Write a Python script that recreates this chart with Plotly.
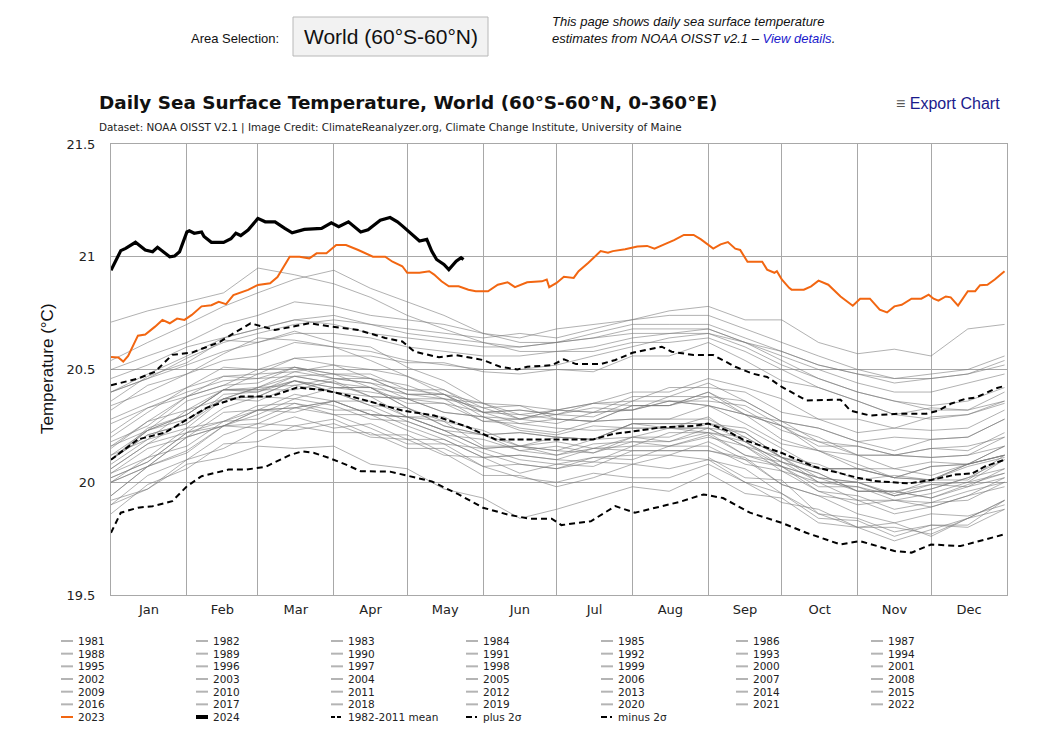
import plotly.graph_objects as go

# ---------------- data ----------------
KNOTS = ["01-01", "01-16", "02-01", "02-16", "03-01", "03-16", "04-01", "04-16",
         "05-01", "05-16", "06-01", "06-16", "07-01", "07-16", "08-01", "08-16",
         "09-01", "09-16", "10-01", "10-16", "11-01", "11-16", "12-01", "12-16", "12-31"]
KNOTS_1981 = KNOTS[16:]

y1981 = [20.11, 20.02, 20.01, 19.86, 19.80, 19.82, 19.76, 19.84, 19.88]
y1982 = [19.90, 19.97, 20.10, 20.15, 20.23, 20.23, 20.26, 20.20, 20.19, 20.12, 20.11, 20.04, 20.08, 20.11, 20.10, 20.16, 20.21, 20.12, 20.09, 20.00, 20.00, 19.95, 20.01, 20.01, 20.12]
y1983 = [20.10, 20.24, 20.30, 20.41, 20.41, 20.45, 20.40, 20.38, 20.29, 20.27, 20.16, 20.16, 20.12, 20.15, 20.14, 20.14, 20.14, 20.11, 19.99, 19.94, 19.86, 19.82, 19.86, 19.85, 19.90]
y1984 = [19.90, 20.03, 20.10, 20.21, 20.26, 20.25, 20.28, 20.21, 20.21, 20.13, 20.03, 20.03, 19.98, 20.02, 20.08, 20.06, 20.10, 20.00, 19.95, 19.84, 19.83, 19.76, 19.81, 19.81, 19.92]
y1985 = [19.92, 19.97, 20.08, 20.11, 20.16, 20.15, 20.16, 20.08, 20.06, 19.97, 19.93, 19.84, 19.88, 19.93, 19.98, 19.96, 20.04, 19.95, 19.93, 19.82, 19.80, 19.74, 19.79, 19.84, 19.92]
y1986 = [19.94, 20.07, 20.13, 20.25, 20.24, 20.29, 20.24, 20.26, 20.19, 20.19, 20.11, 20.12, 20.10, 20.15, 20.16, 20.22, 20.22, 20.20, 20.11, 20.08, 20.01, 20.03, 20.01, 20.08, 20.12]
y1987 = [20.10, 20.23, 20.30, 20.41, 20.42, 20.49, 20.46, 20.46, 20.39, 20.39, 20.31, 20.32, 20.30, 20.35, 20.34, 20.34, 20.40, 20.30, 20.25, 20.14, 20.12, 20.06, 20.09, 20.08, 20.16]
y1988 = [20.15, 20.27, 20.32, 20.41, 20.40, 20.45, 20.40, 20.34, 20.27, 20.21, 20.13, 20.08, 20.06, 20.09, 20.08, 20.12, 20.10, 20.06, 19.95, 19.86, 19.84, 19.78, 19.81, 19.80, 19.88]
y1989 = [19.86, 19.99, 20.06, 20.17, 20.18, 20.25, 20.22, 20.22, 20.15, 20.15, 20.07, 20.08, 20.06, 20.11, 20.12, 20.12, 20.18, 20.10, 20.07, 19.98, 19.98, 19.94, 19.99, 20.00, 20.10]
y1990 = [20.08, 20.19, 20.24, 20.37, 20.38, 20.45, 20.42, 20.42, 20.33, 20.25, 20.21, 20.22, 20.20, 20.19, 20.26, 20.24, 20.24, 20.22, 20.11, 20.06, 20.06, 20.02, 20.01, 20.07, 20.11]
y1991 = [20.10, 20.23, 20.30, 20.41, 20.41, 20.41, 20.45, 20.38, 20.37, 20.31, 20.29, 20.23, 20.21, 20.25, 20.24, 20.24, 20.29, 20.18, 20.09, 20.04, 19.96, 19.96, 19.93, 19.99, 20.04]
y1992 = [20.04, 20.11, 20.24, 20.27, 20.28, 20.35, 20.30, 20.24, 20.17, 20.17, 20.07, 20.02, 20.00, 20.04, 20.02, 20.02, 20.08, 20.00, 19.91, 19.88, 19.80, 19.80, 19.77, 19.84, 19.92]
y1993 = [19.94, 20.07, 20.14, 20.25, 20.26, 20.33, 20.30, 20.30, 20.23, 20.17, 20.15, 20.10, 20.08, 20.07, 20.14, 20.14, 20.14, 20.10, 19.99, 19.94, 19.92, 19.86, 19.89, 19.94, 19.98]
y1994 = [20.00, 20.07, 20.20, 20.25, 20.32, 20.33, 20.36, 20.30, 20.29, 20.23, 20.15, 20.16, 20.14, 20.19, 20.20, 20.20, 20.26, 20.22, 20.11, 20.06, 20.06, 20.02, 20.01, 20.08, 20.12]
y1995 = [20.12, 20.23, 20.28, 20.37, 20.36, 20.43, 20.40, 20.34, 20.33, 20.25, 20.21, 20.14, 20.16, 20.13, 20.18, 20.16, 20.20, 20.16, 20.05, 20.00, 19.92, 19.92, 19.89, 19.94, 20.02]
y1996 = [20.02, 20.09, 20.22, 20.25, 20.30, 20.37, 20.34, 20.28, 20.27, 20.21, 20.19, 20.14, 20.12, 20.17, 20.18, 20.18, 20.24, 20.16, 20.07, 20.02, 20.00, 19.94, 19.97, 20.02, 20.06]
y1997 = [20.06, 20.17, 20.22, 20.33, 20.38, 20.37, 20.42, 20.40, 20.37, 20.35, 20.31, 20.30, 20.32, 20.35, 20.40, 20.40, 20.46, 20.42, 20.37, 20.28, 20.28, 20.24, 20.29, 20.30, 20.35]
y1998 = [20.36, 20.47, 20.53, 20.63, 20.62, 20.67, 20.62, 20.60, 20.51, 20.45, 20.35, 20.34, 20.28, 20.27, 20.28, 20.28, 20.28, 20.20, 20.11, 20.02, 19.96, 19.96, 19.93, 19.98, 20.02]
y1999 = [20.02, 20.09, 20.22, 20.27, 20.34, 20.35, 20.32, 20.32, 20.25, 20.19, 20.11, 20.12, 20.10, 20.09, 20.16, 20.16, 20.16, 20.08, 20.05, 19.96, 19.90, 19.92, 19.91, 19.92, 20.00]
y2000 = [20.00, 20.11, 20.16, 20.27, 20.32, 20.31, 20.36, 20.30, 20.29, 20.23, 20.15, 20.16, 20.14, 20.13, 20.20, 20.24, 20.22, 20.18, 20.07, 20.02, 20.00, 19.94, 19.97, 20.02, 20.10]
y2001 = [20.10, 20.21, 20.26, 20.39, 20.40, 20.47, 20.44, 20.38, 20.37, 20.31, 20.29, 20.24, 20.22, 20.27, 20.28, 20.28, 20.34, 20.26, 20.17, 20.14, 20.08, 20.02, 20.07, 20.08, 20.16]
y2002 = [20.16, 20.23, 20.36, 20.41, 20.48, 20.49, 20.52, 20.46, 20.39, 20.39, 20.31, 20.32, 20.30, 20.29, 20.36, 20.36, 20.36, 20.34, 20.25, 20.20, 20.12, 20.12, 20.15, 20.16, 20.20]
y2003 = [20.22, 20.33, 20.38, 20.47, 20.46, 20.51, 20.46, 20.44, 20.41, 20.39, 20.29, 20.28, 20.32, 20.31, 20.32, 20.36, 20.34, 20.30, 20.25, 20.16, 20.16, 20.12, 20.11, 20.12, 20.20]
y2004 = [20.18, 20.25, 20.38, 20.43, 20.44, 20.51, 20.48, 20.42, 20.39, 20.37, 20.27, 20.26, 20.28, 20.27, 20.34, 20.34, 20.38, 20.30, 20.27, 20.18, 20.12, 20.12, 20.15, 20.14, 20.22]
y2005 = [20.20, 20.31, 20.42, 20.47, 20.48, 20.55, 20.52, 20.50, 20.47, 20.39, 20.35, 20.28, 20.30, 20.33, 20.32, 20.36, 20.34, 20.30, 20.19, 20.14, 20.06, 20.06, 20.03, 20.08, 20.12]
y2006 = [20.12, 20.19, 20.32, 20.37, 20.38, 20.45, 20.42, 20.42, 20.35, 20.35, 20.27, 20.28, 20.26, 20.31, 20.32, 20.38, 20.38, 20.36, 20.27, 20.24, 20.18, 20.20, 20.19, 20.20, 20.28]
y2007 = [20.26, 20.33, 20.40, 20.45, 20.46, 20.47, 20.44, 20.42, 20.33, 20.27, 20.23, 20.16, 20.18, 20.15, 20.20, 20.18, 20.22, 20.12, 20.07, 19.96, 19.94, 19.88, 19.91, 19.96, 20.00]
y2008 = [20.00, 20.07, 20.20, 20.25, 20.32, 20.33, 20.36, 20.30, 20.29, 20.23, 20.21, 20.16, 20.20, 20.19, 20.26, 20.26, 20.26, 20.24, 20.15, 20.06, 20.06, 20.02, 20.07, 20.08, 20.12]
y2009 = [20.10, 20.21, 20.26, 20.37, 20.42, 20.43, 20.46, 20.44, 20.37, 20.37, 20.33, 20.28, 20.32, 20.35, 20.36, 20.42, 20.42, 20.40, 20.31, 20.28, 20.22, 20.24, 20.23, 20.24, 20.32]
y2010 = [20.32, 20.43, 20.48, 20.57, 20.64, 20.63, 20.60, 20.54, 20.47, 20.41, 20.31, 20.26, 20.24, 20.23, 20.24, 20.24, 20.24, 20.16, 20.11, 20.00, 19.98, 19.92, 19.95, 20.00, 20.04]
y2011 = [20.04, 20.15, 20.20, 20.31, 20.32, 20.39, 20.36, 20.36, 20.29, 20.29, 20.21, 20.22, 20.20, 20.19, 20.26, 20.26, 20.26, 20.18, 20.09, 20.04, 19.96, 19.96, 19.99, 19.98, 20.06]
y2012 = [20.06, 20.17, 20.28, 20.37, 20.42, 20.47, 20.48, 20.46, 20.43, 20.37, 20.35, 20.30, 20.28, 20.27, 20.34, 20.34, 20.40, 20.32, 20.23, 20.18, 20.16, 20.12, 20.11, 20.12, 20.16]
y2013 = [20.16, 20.27, 20.38, 20.43, 20.50, 20.51, 20.48, 20.48, 20.41, 20.41, 20.33, 20.34, 20.32, 20.31, 20.38, 20.38, 20.44, 20.36, 20.27, 20.24, 20.18, 20.14, 20.19, 20.20, 20.28]
y2014 = [20.28, 20.35, 20.42, 20.51, 20.50, 20.55, 20.56, 20.56, 20.53, 20.53, 20.49, 20.48, 20.50, 20.49, 20.56, 20.56, 20.62, 20.54, 20.45, 20.42, 20.36, 20.30, 20.33, 20.32, 20.40]
y2015 = [20.40, 20.46, 20.55, 20.62, 20.66, 20.70, 20.72, 20.70, 20.68, 20.66, 20.64, 20.66, 20.64, 20.68, 20.72, 20.76, 20.78, 20.72, 20.72, 20.62, 20.57, 20.59, 20.56, 20.68, 20.70]
y2016 = [20.71, 20.76, 20.80, 20.84, 20.95, 20.92, 20.88, 20.82, 20.74, 20.68, 20.62, 20.58, 20.58, 20.58, 20.62, 20.62, 20.64, 20.58, 20.50, 20.42, 20.36, 20.30, 20.28, 20.30, 20.36]
y2017 = [20.40, 20.48, 20.56, 20.64, 20.68, 20.72, 20.74, 20.70, 20.66, 20.64, 20.62, 20.60, 20.62, 20.64, 20.68, 20.68, 20.68, 20.62, 20.54, 20.46, 20.40, 20.36, 20.32, 20.32, 20.36]
y2018 = [20.34, 20.40, 20.48, 20.54, 20.56, 20.62, 20.60, 20.58, 20.54, 20.52, 20.50, 20.50, 20.52, 20.56, 20.60, 20.64, 20.66, 20.62, 20.58, 20.52, 20.48, 20.46, 20.46, 20.48, 20.52]
y2019 = [20.50, 20.56, 20.62, 20.70, 20.74, 20.80, 20.78, 20.74, 20.72, 20.70, 20.66, 20.64, 20.68, 20.70, 20.72, 20.74, 20.74, 20.68, 20.62, 20.56, 20.50, 20.46, 20.48, 20.50, 20.56]
y2020 = [20.54, 20.62, 20.70, 20.78, 20.84, 20.90, 20.94, 20.86, 20.80, 20.74, 20.66, 20.62, 20.62, 20.64, 20.66, 20.66, 20.66, 20.60, 20.52, 20.46, 20.40, 20.36, 20.34, 20.36, 20.42]
y2021 = [20.40, 20.46, 20.52, 20.58, 20.62, 20.66, 20.66, 20.64, 20.60, 20.58, 20.56, 20.56, 20.58, 20.60, 20.64, 20.66, 20.68, 20.62, 20.56, 20.50, 20.44, 20.40, 20.40, 20.44, 20.48]
y2022 = [20.46, 20.52, 20.60, 20.64, 20.68, 20.72, 20.70, 20.66, 20.64, 20.62, 20.60, 20.60, 20.62, 20.66, 20.70, 20.70, 20.70, 20.64, 20.58, 20.52, 20.48, 20.44, 20.46, 20.48, 20.54]

d2023 = ["01-01", "01-04", "01-06", "01-08", "01-12", "01-15", "01-19", "01-22", "01-25", "01-28", "01-31",
         "02-03", "02-07", "02-11", "02-14", "02-17", "02-20", "02-26", "03-01", "03-06", "03-09", "03-14",
         "03-18", "03-22", "03-25", "03-29", "04-02", "04-06", "04-11", "04-17", "04-22", "04-25", "04-29",
         "05-01", "05-06", "05-10", "05-12", "05-15", "05-18", "05-22", "05-26", "05-29", "06-03", "06-07",
         "06-11", "06-14", "06-19", "06-25", "06-27", "06-28", "07-01", "07-04", "07-08", "07-10", "07-14",
         "07-19", "07-22", "07-24", "07-29", "08-03", "08-07", "08-10", "08-14", "08-18", "08-22", "08-26",
         "08-29", "09-03", "09-06", "09-09", "09-12", "09-14", "09-17", "09-23", "09-25", "09-28", "09-29",
         "10-01", "10-04", "10-05", "10-10", "10-13", "10-16", "10-20", "10-25", "10-30", "11-02", "11-06",
         "11-10", "11-13", "11-16", "11-19", "11-23", "11-27", "11-30", "12-02", "12-04", "12-07", "12-09",
         "12-12", "12-16", "12-19", "12-21", "12-24", "12-27", "12-31"]
v2023 = [20.555, 20.553, 20.535, 20.56, 20.65, 20.655, 20.69, 20.72, 20.705, 20.726, 20.72,
         20.742, 20.78, 20.785, 20.80, 20.79, 20.83, 20.853, 20.875, 20.882, 20.91, 21.00,
         21.00, 20.993, 21.015, 21.015, 21.052, 21.052, 21.03, 21.00, 21.00, 20.978, 20.958,
         20.929, 20.929, 20.936, 20.921, 20.891, 20.869, 20.869, 20.854, 20.847, 20.847, 20.876,
         20.887, 20.865, 20.887, 20.891, 20.899, 20.865, 20.884, 20.911, 20.906, 20.936, 20.973,
         21.025, 21.018, 21.025, 21.033, 21.045, 21.048, 21.036, 21.055, 21.074, 21.097, 21.097,
         21.077, 21.036, 21.055, 21.065, 21.036, 21.03, 20.978, 20.978, 20.943, 20.929, 20.936,
         20.899, 20.862, 20.854, 20.854, 20.869, 20.894, 20.876, 20.824, 20.783, 20.814, 20.814,
         20.765, 20.753, 20.78, 20.787, 20.814, 20.814, 20.832, 20.814, 20.805, 20.824, 20.82,
         20.783, 20.847, 20.847, 20.874, 20.876, 20.899, 20.936]

d2024 = ["01-01", "01-03", "01-05", "01-07", "01-11", "01-15", "01-18", "01-20", "01-25", "01-27", "01-29",
         "02-01", "02-02", "02-04", "02-07", "02-08", "02-11", "02-16", "02-19", "02-21", "02-23", "02-26",
         "03-01", "03-04", "03-08", "03-12", "03-15", "03-20", "03-27", "03-31", "04-03", "04-07", "04-12",
         "04-15", "04-20", "04-24", "04-27", "04-29", "05-03", "05-06", "05-09", "05-11", "05-13", "05-16",
         "05-18", "05-21", "05-23", "05-24"]
v2024 = [20.94, 20.985, 21.027, 21.037, 21.064, 21.03, 21.022, 21.042, 21.00, 21.003, 21.022,
         21.11, 21.115, 21.104, 21.11, 21.09, 21.064, 21.064, 21.08, 21.104, 21.094, 21.118,
         21.17, 21.155, 21.155, 21.126, 21.106, 21.121, 21.126, 21.15, 21.133, 21.155, 21.11,
         21.12, 21.162, 21.174, 21.155, 21.137, 21.10, 21.07, 21.077, 21.025, 20.988, 20.966,
         20.943, 20.98, 20.996, 20.988]

d_mean = ["01-01", "01-12", "01-23", "02-01", "02-09", "02-23", "03-06", "03-17", "03-27", "04-05", "04-18",
          "04-29", "05-12", "05-26", "06-01", "06-06", "07-16", "07-24", "08-01", "08-13", "08-26", "09-01",
          "09-08", "09-15", "10-01", "10-14", "11-01", "11-08", "11-22", "12-01", "12-11", "12-18", "12-23", "12-31"]
v_mean = [20.10, 20.19, 20.22, 20.28, 20.33, 20.38, 20.38, 20.42, 20.41, 20.39, 20.35,
          20.318, 20.296, 20.244, 20.214, 20.19, 20.19, 20.214, 20.225, 20.244, 20.25, 20.26,
          20.232, 20.19, 20.13, 20.07, 20.02, 20.005, 19.995, 20.01, 20.034, 20.04, 20.07, 20.10]

d_plus = ["01-01", "01-09", "01-12", "01-19", "01-26", "02-03", "02-14", "02-20", "02-27", "03-08", "03-22",
          "03-31", "04-11", "04-22", "04-29", "05-04", "05-14", "05-21", "06-01", "06-08", "06-15", "06-19",
          "06-29", "07-04", "07-09", "07-19", "07-25", "08-01", "08-09", "08-13", "08-17", "08-26", "09-03",
          "09-12", "09-19", "09-25", "10-01", "10-07", "10-11", "10-25", "10-29", "11-06", "11-18", "11-29",
          "12-04", "12-09", "12-15", "12-19", "12-23", "12-27", "12-31"]
v_plus = [20.43, 20.45, 20.46, 20.49, 20.565, 20.575, 20.62, 20.66, 20.705, 20.675, 20.705,
          20.69, 20.675, 20.64, 20.624, 20.579, 20.554, 20.564, 20.542, 20.512, 20.50, 20.512,
          20.519, 20.545, 20.524, 20.524, 20.542, 20.574, 20.594, 20.601, 20.579, 20.564, 20.564,
          20.512, 20.482, 20.467, 20.423, 20.385, 20.363, 20.366, 20.318, 20.296, 20.304, 20.304,
          20.318, 20.348, 20.37, 20.375, 20.393, 20.415, 20.427]

d_minus = ["01-01", "01-05", "01-12", "01-18", "01-26", "02-01", "02-07", "02-18", "02-25", "03-04", "03-14",
           "03-19", "03-24", "03-30", "04-06", "04-12", "04-24", "05-02", "05-11", "05-22", "06-01", "06-11",
           "06-20", "06-29", "07-03", "07-15", "07-25", "08-02", "08-11", "08-20", "08-30", "09-07", "09-18",
           "10-01", "10-11", "10-25", "11-02", "11-16", "11-23", "12-01", "12-13", "12-23", "12-31"]
v_minus = [19.776, 19.865, 19.887, 19.894, 19.916, 19.982, 20.027, 20.056, 20.056, 20.068, 20.12,
           20.137, 20.13, 20.108, 20.078, 20.049, 20.047, 20.027, 20.004, 19.946, 19.887, 19.857,
           19.838, 19.838, 19.81, 19.827, 19.894, 19.865, 19.887, 19.912, 19.946, 19.93, 19.865,
           19.82, 19.776, 19.724, 19.739, 19.695, 19.688, 19.724, 19.717, 19.746, 19.769]

YEARS_GRAY = list(range(1981, 2023))
GRAY_SERIES = [y1981, y1982, y1983, y1984, y1985, y1986, y1987, y1988, y1989, y1990,
               y1991, y1992, y1993, y1994, y1995, y1996, y1997, y1998, y1999, y2000,
               y2001, y2002, y2003, y2004, y2005, y2006, y2007, y2008, y2009, y2010,
               y2011, y2012, y2013, y2014, y2015, y2016, y2017, y2018, y2019, y2020,
               y2021, y2022]

Y_TICKS = [19.5, 20, 20.5, 21, 21.5]
Y_TICK_TEXT = ["19.5", "20", "20.5", "21", "21.5"]

# ---------------- layout geometry ----------------
# the page body has an 8px margin, so the figure is drawn 8px in from the window corner
OFF = 8
W, H = 1052 - OFF, 738 - OFF
PLOT_L, PLOT_R, PLOT_T, PLOT_B = 111, 1007, 144, 595     # window pixel coordinates
L, R, T, B = PLOT_L - OFF, 1052 - PLOT_R, PLOT_T - OFF, 738 - PLOT_B
PW, PH = W - L - R, H - T - B


def px(xp):
    """window x pixel -> paper coordinate"""
    return (xp - OFF - L) / PW


def py(yp):
    """window y pixel -> paper coordinate"""
    return (H - B - (yp - OFF)) / PH


def on2024(md_list):
    return ["2024-" + md for md in md_list]


GRAY = "rgba(120,120,120,0.58)"
ORANGE = "#f26611"
FONT_TICK = "DejaVu Sans, Verdana, sans-serif"
FONT_UI = "Liberation Sans, Arial, sans-serif"

fig = go.Figure()

for yr, vals in zip(YEARS_GRAY, GRAY_SERIES):
    xs = KNOTS_1981 if yr == 1981 else KNOTS
    fig.add_trace(go.Scatter(x=on2024(xs), y=vals, mode="lines", name=str(yr),
                             line=dict(color=GRAY, width=1), showlegend=False,
                             hoverinfo="skip"))

fig.add_trace(go.Scatter(x=on2024(d_mean), y=v_mean, mode="lines", name="1982-2011 mean",
                         line=dict(color="black", width=2, dash="6px,3px"), showlegend=False))
fig.add_trace(go.Scatter(x=on2024(d_plus), y=v_plus, mode="lines", name="plus 2σ",
                         line=dict(color="black", width=2, dash="6px,4px"), showlegend=False))
fig.add_trace(go.Scatter(x=on2024(d_minus), y=v_minus, mode="lines", name="minus 2σ",
                         line=dict(color="black", width=2, dash="6px,4px"), showlegend=False))
fig.add_trace(go.Scatter(x=on2024(d2023), y=v2023, mode="lines", name="2023",
                         line=dict(color=ORANGE, width=2), showlegend=False))
fig.add_trace(go.Scatter(x=on2024(d2024), y=v2024, mode="lines", name="2024",
                         line=dict(color="black", width=3.2), showlegend=False))

# ---------------- custom legend (7 columns) ----------------
legend_names = [str(y) for y in YEARS_GRAY] + ["2023", "2024", "1982-2011 mean", "plus 2σ", "minus 2σ"]
legend_styles = ([dict(color="#b4b4b4", width=2, dash="solid")] * len(YEARS_GRAY) +
                 [dict(color=ORANGE, width=2, dash="solid"),
                  dict(color="black", width=4, dash="solid"),
                  dict(color="black", width=2, dash="4px,2px"),
                  dict(color="black", width=2, dash="6px,3px,2px,3px"),
                  dict(color="black", width=2, dash="6px,3px,2px,3px")])
shapes = []
annotations = []
for i, (nm, st) in enumerate(zip(legend_names, legend_styles)):
    col, row = i % 7, i // 7
    x0 = 61 + 135 * col
    yy = 641 + 12.67 * row
    shapes.append(dict(type="line", xref="paper", yref="paper",
                       x0=px(x0), x1=px(x0 + 12), y0=py(yy), y1=py(yy), line=st))
    annotations.append(dict(xref="paper", yref="paper", x=px(x0 + 15), y=py(yy),
                            xanchor="left", yanchor="middle", showarrow=False, text=nm,
                            font=dict(family=FONT_TICK, size=10.5, color="#222")))

# ---------------- header / titles ----------------
shapes.append(dict(type="rect", xref="paper", yref="paper",
                   x0=px(293), x1=px(488), y0=py(17), y1=py(56),
                   fillcolor="#f2f2f2", line=dict(color="#b8b8b8", width=1), layer="below"))
annotations += [
    dict(xref="paper", yref="paper", x=px(281), y=py(39), xanchor="right", yanchor="middle",
         showarrow=False, text="Area Selection:", font=dict(family=FONT_UI, size=13, color="#111")),
    dict(xref="paper", yref="paper", x=px(391), y=py(37), xanchor="center", yanchor="middle",
         showarrow=False, text="World (60°S-60°N)", font=dict(family=FONT_UI, size=21, color="#111")),
    dict(xref="paper", yref="paper", x=px(550), y=py(30), xanchor="left", yanchor="middle",
         align="left", showarrow=False,
         text="<i>This page shows daily sea surface temperature<br>estimates from NOAA OISST v2.1 – "
              "<span style='color:#1a1acc'>View details</span>.</i>",
         font=dict(family=FONT_UI, size=13, color="#111")),
    dict(xref="paper", yref="paper", x=px(97), y=py(102), xanchor="left", yanchor="middle",
         showarrow=False, text="<b>Daily Sea Surface Temperature, World (60°S-60°N, 0-360°E)</b>",
         font=dict(family=FONT_TICK, size=18.4, color="#111")),
    dict(xref="paper", yref="paper", x=px(97), y=py(127), xanchor="left", yanchor="middle",
         showarrow=False,
         text="Dataset: NOAA OISST V2.1 | Image Credit: ClimateReanalyzer.org, Climate Change Institute, University of Maine",
         font=dict(family=FONT_TICK, size=10.4, color="#222")),
    dict(xref="paper", yref="paper", x=px(1002), y=py(103), xanchor="right", yanchor="middle",
         showarrow=False,
         text="<span style='color:#555'>≡</span> Export Chart",
         font=dict(family=FONT_UI, size=16, color="#1a1a8c")),
    dict(xref="paper", yref="paper", x=px(47), y=py(369), xanchor="center", yanchor="middle",
         showarrow=False, textangle=-90, text="Temperature (°C)",
         font=dict(family=FONT_UI, size=17, color="#111")),
]

fig.update_layout(
    width=W, height=H,
    margin=dict(l=L, r=R, t=T, b=B, pad=0),
    paper_bgcolor="white", plot_bgcolor="white",
    showlegend=False,
    shapes=shapes, annotations=annotations,
    xaxis=dict(type="date", range=["2024-01-01", "2025-01-01"], dtick="M1", tick0="2024-01-01",
               ticklabelmode="period", tickformat="%b", showgrid=True, gridcolor="#a8a8a8",
               gridwidth=1, ticks="", showline=True, mirror=True, linecolor="#a8a8a8",
               tickfont=dict(family=FONT_TICK, size=13, color="#222"), ticklabelstandoff=2,
               zeroline=False, fixedrange=True),
    yaxis=dict(range=[19.5, 21.5], tickvals=Y_TICKS, ticktext=Y_TICK_TEXT, showgrid=True,
               gridcolor="#a8a8a8", gridwidth=1, ticks="", showline=True, mirror=True,
               linecolor="#a8a8a8", tickfont=dict(family=FONT_TICK, size=13, color="#222"),
               ticklabelstandoff=12, zeroline=False, fixedrange=True),
)

fig.write_html("out.html")
